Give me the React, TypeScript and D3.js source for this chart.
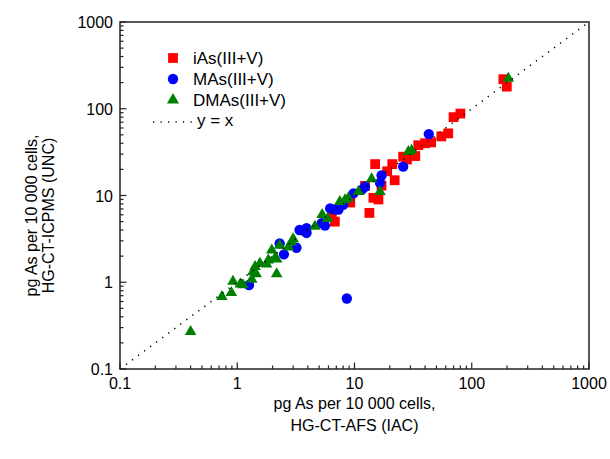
import React from "react";
import * as d3 from "d3";

// values: [AFS (IAC), ICPMS (UNC)]
const iAs: [number, number][] = [
  [6.4, 6.2], [6.8, 5.0], [9.2, 8.3], [12.3, 12.9], [13.4, 6.3], [14.5, 9.4],
  [16, 9], [15, 23], [17, 13], [19, 19], [21, 23], [22, 15], [26, 28], [28, 26],
  [33, 28.5], [35, 38], [40, 40], [45, 41], [55, 48], [63, 52], [70, 80],
  [80, 88], [186, 219], [199, 180],
];
const MAs: [number, number][] = [
  [1.26, 0.93], [2.3, 2.8], [2.5, 2.1], [3.2, 2.5], [3.4, 4.0], [3.9, 4.2],
  [3.9, 3.7], [5.25, 4.8], [5.6, 4.5], [6.2, 7.1], [6.8, 6.9], [7.3, 6.9],
  [8.0, 7.8], [8.6, 0.65], [9.8, 10.6], [11.5, 11.6], [12.3, 12.6],
  [16.5, 14], [17, 17], [26, 21.5], [43, 51],
];
const DMAs: [number, number][] = [
  [0.4, 0.27], [0.74, 0.68], [0.89, 0.76], [0.92, 1.02], [1.06, 0.95],
  [1.12, 0.93], [1.33, 1.08], [1.36, 1.32], [1.42, 1.51], [1.45, 1.25],
  [1.56, 1.65], [1.78, 1.62], [1.84, 1.8], [2.1, 1.9], [2.17, 1.25],
  [2.17, 1.84], [1.97, 2.35], [2.3, 2.65], [2.73, 2.53], [2.9, 2.9],
  [3.0, 3.15], [4.6, 4.4], [5.3, 6.0], [5.9, 5.4], [7.5, 8.5], [8.3, 8.9],
  [8.85, 9.3], [10.8, 11.1], [14, 15.5], [16.5, 11.1], [28.8, 32],
  [30.7, 33], [205, 224],
];
const decadeLabels = ["0.1", "1", "10", "100", "1000"];
const legendLabels = ["iAs(III+V)", "MAs(III+V)", "DMAs(III+V)", "y = x"];

const W = 610;
const H = 459;
const m = { left: 120, right: 21, top: 22, bottom: 90 };
const font = "'Liberation Sans', Arial, sans-serif";

const series = [
  { data: iAs, color: "#ff0000", sym: d3.symbolSquare, size: 96 },
  { data: MAs, color: "#0000ff", sym: d3.symbolCircle, size: 84 },
  { data: DMAs, color: "#008000", sym: d3.symbolTriangle, size: 58 },
];

export default function App() {
  const x = d3.scaleLog().domain([0.1, 1000]).range([m.left, W - m.right]);
  const y = d3.scaleLog().domain([0.1, 1000]).range([H - m.bottom, m.top]);
  const ticks = x.ticks();
  const isMajor = (t: number) => Math.abs(Math.log10(t) - Math.round(Math.log10(t))) < 1e-6;
  const x0 = m.left, x1 = W - m.right, y0 = H - m.bottom, y1 = m.top;

  const diag = d3.line<number>().x((v) => x(v)).y((v) => y(v));

  return (
    <svg width={W} height={H} style={{ position: "absolute", left: 0, top: 0 }} fontFamily={font}>
      <rect width={W} height={H} fill="#fff" />
      {/* markers */}
      {series.map((s, i) => (
        <g key={i} fill={s.color}>
          {s.data.map((d, j) => (
            <path key={j} d={d3.symbol(s.sym, s.size)() as string}
              transform={`translate(${x(d[0])},${y(d[1])})`} />
          ))}
        </g>
      ))}
      {/* y = x */}
      <path d={diag([0.1, 1000]) as string} stroke="#000" strokeWidth={1.6}
        strokeDasharray="1.2 6.3" fill="none" />
      {/* frame */}
      <rect x={x0} y={y1} width={x1 - x0} height={y0 - y1} fill="none" stroke="#222" strokeWidth={1.5} />
      {/* ticks */}
      {ticks.map((t, i) => {
        const len = isMajor(t) ? 6.5 : 3.5;
        return (
          <g key={i} stroke="#222" strokeWidth={1.2}>
            <line x1={x(t)} x2={x(t)} y1={y0} y2={y0 - len} />
            <line x1={x0} x2={x0 + len} y1={y(t)} y2={y(t)} />
          </g>
        );
      })}
      {/* tick labels */}
      {decadeLabels.map((l, i) => {
        const v = Math.pow(10, i - 1);
        return (
          <g key={l} fontSize={16} fill="#000">
            <text x={x(v)} y={y0 + 20} textAnchor="middle">{l}</text>
            <text x={x0 - 7} y={y(v) + 6} textAnchor="end">{l}</text>
          </g>
        );
      })}
      {/* axis titles */}
      <g fontSize={16} textAnchor="middle" fill="#000">
        <text x={(x0 + x1) / 2} y={409}>pg As per 10 000 cells,</text>
        <text x={(x0 + x1) / 2} y={431}>HG-CT-AFS (IAC)</text>
        <g transform={`translate(37,${(y0 + y1) / 2 + 20}) rotate(-90)`}>
          <text x={0} y={0}>pg As per 10 000 cells,</text>
          <text x={0} y={17}>HG-CT-ICPMS (UNC)</text>
        </g>
      </g>
      {/* legend */}
      <g fontSize={17} fill="#000">
        {series.map((s, i) => (
          <g key={i}>
            <path d={d3.symbol(s.sym, i === 2 ? 64 : s.size)() as string}
              transform={`translate(173,${58 + i * 21})`} fill={s.color} />
            <text x={193} y={64 + i * 21}>{legendLabels[i]}</text>
          </g>
        ))}
        <line x1={153} x2={193} y1={122} y2={122} stroke="#000" strokeWidth={1.6} strokeDasharray="1.2 6.3" />
        <text x={197} y={126}>{legendLabels[3]}</text>
      </g>
    </svg>
  );
}
